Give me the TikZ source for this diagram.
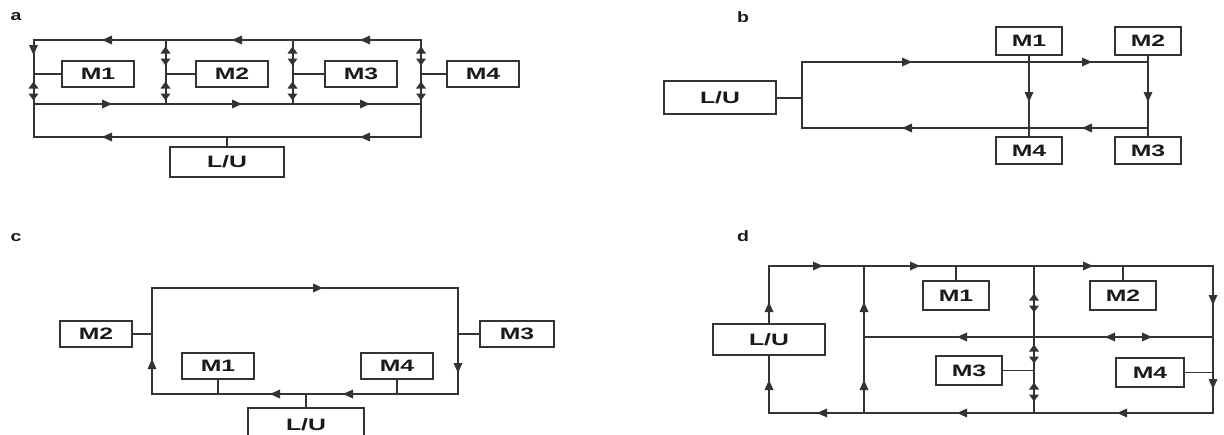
\documentclass[tikz,border=0pt]{standalone}
\usepackage{fontspec}
\setmainfont{Liberation Sans}
\usepackage{graphicx}
\definecolor{linec}{HTML}{333333}
\definecolor{txtc}{HTML}{1A1A1A}
\newcommand{\stretchtxt}[1]{\scalebox{1.5}[1]{#1}}
\newcommand{\stretchlbl}[1]{\scalebox{1.3}[1]{#1}}
\tikzset{
  wire/.style={draw=linec, line width=2pt},
  thinwire/.style={draw=linec, line width=1pt},
  box/.style={draw=linec, line width=1.8pt, fill=white, inner sep=0pt, text=txtc,
    font=\fontsize{16.5}{16.5}\selectfont\bfseries},
  panel/.style={text=txtc, font=\fontsize{15}{15}\selectfont\bfseries, inner sep=0pt},
  ar/.pic={\fill[linec] (5,0) -- (-5,4.5) -- (-5,-4.5) -- cycle;},
  pair/.pic={\fill[linec] (-5,-2.5) -- (5,-2.5) -- (0,-9.5) -- cycle;
             \fill[linec] (-5,2.5) -- (5,2.5) -- (0,9.5) -- cycle;}
}
\begin{document}
\begin{tikzpicture}[x=1pt,y=-1pt]
\useasboundingbox (0,0) rectangle (1224,434);

% ================= panel a =================
\node[panel] (la) at (16,17) {\stretchlbl{a}};
\coordinate (aTL) at (33.5,40);  \coordinate (aTR) at (421,40);
\coordinate (aML) at (33.5,104); \coordinate (aMR) at (421,104);
\coordinate (aBL) at (33.5,137); \coordinate (aBR) at (421,137);
\coordinate (aT2) at (165.5,40); \coordinate (aM2) at (165.5,104);
\coordinate (aT3) at (292.5,40); \coordinate (aM3) at (292.5,104);
\draw[wire] (aTL) -- (aTR) -- (aBR) -- (aBL) -- cycle;
\draw[wire] (aML) -- (aMR);
\draw[wire] (aT2) -- (aM2);
\draw[wire] (aT3) -- (aM3);
\node[box, minimum width=72pt, minimum height=26pt] (aM1) at (98,74) {\stretchtxt{M1}};
\node[box, minimum width=72pt, minimum height=26pt] (aM2b) at (232,74) {\stretchtxt{M2}};
\node[box, minimum width=72pt, minimum height=26pt] (aM3b) at (361,74) {\stretchtxt{M3}};
\node[box, minimum width=72pt, minimum height=26pt] (aM4) at (483,74) {\stretchtxt{M4}};
\node[box, minimum width=114pt, minimum height=30pt] (aLU) at (227,162) {\stretchtxt{L/U}};
\draw[wire] (aM1.west) -- (aM1.west -| aTL);
\draw[wire] (aM2b.west) -- (aM2b.west -| aT2);
\draw[wire] (aM3b.west) -- (aM3b.west -| aT3);
\draw[wire] (aM4.west) -- (aM4.west -| aTR);
\draw[wire] (aLU.north) -- (aLU.north |- aBL);
\foreach \x in {107,237,365} {
  \pic[rotate=180] at (\x,40) {ar};
  \pic at (\x,104) {ar};
}
\foreach \x in {107,365} { \pic[rotate=180] at (\x,137) {ar}; }
\pic[rotate=-90] at (33.5,50) {ar};
\pic at (33.5,91) {pair};
\foreach \x in {165.5,292.5,421} {
  \pic at (\x,56) {pair};
  \pic at (\x,91) {pair};
}

% ================= panel b =================
\node[panel] (lb) at (743,17) {\stretchlbl{b}};
\coordinate (bTL) at (802,62);  \coordinate (bTR) at (1148,62);
\coordinate (bBL) at (802,128); \coordinate (bBR) at (1148,128);
\draw[wire] (bTR) -- (bTL) -- (bBL) -- (bBR);
\node[box, minimum width=112pt, minimum height=33pt] (bLU) at (720,97.5) {\stretchtxt{L/U}};
\node[box, minimum width=66pt, minimum height=28pt] (bM1) at (1029,41) {\stretchtxt{M1}};
\node[box, minimum width=66pt, minimum height=28pt] (bM2) at (1148,41) {\stretchtxt{M2}};
\node[box, minimum width=66pt, minimum height=27pt] (bM4) at (1029,150.5) {\stretchtxt{M4}};
\node[box, minimum width=66pt, minimum height=27pt] (bM3) at (1148,150.5) {\stretchtxt{M3}};
\draw[wire] (bLU.east) -- (bLU.east -| bTL);
\draw[wire] (bM1.south) -- (bM4.north);
\draw[wire] (bM2.south) -- (bM3.north);
\foreach \x in {907,1087} {
  \pic at (\x,62) {ar};
  \pic[rotate=180] at (\x,128) {ar};
}
\pic[rotate=-90] at (1029,97) {ar};
\pic[rotate=-90] at (1148,97) {ar};

% ================= panel c =================
\node[panel] (lc) at (16,238) {\stretchlbl{c}};
\coordinate (cTL) at (152,288); \coordinate (cTR) at (458,288);
\coordinate (cBL) at (152,394); \coordinate (cBR) at (458,394);
\draw[wire] (cTL) -- (cTR) -- (cBR) -- (cBL) -- cycle;
\node[box, minimum width=72pt, minimum height=26pt] (cM2) at (96,334) {\stretchtxt{M2}};
\node[box, minimum width=74pt, minimum height=26pt] (cM3) at (517,334) {\stretchtxt{M3}};
\node[box, minimum width=72pt, minimum height=26pt] (cM1) at (218,366) {\stretchtxt{M1}};
\node[box, minimum width=72pt, minimum height=26pt] (cM4) at (397,366) {\stretchtxt{M4}};
\node[box, minimum width=116pt, minimum height=33pt] (cLU) at (306,424.5) {\stretchtxt{L/U}};
\draw[wire] (cM2.east) -- (cM2.east -| cTL);
\draw[wire] (cM3.west) -- (cM3.west -| cTR);
\draw[wire] (cM1.south) -- (cM1.south |- cBL);
\draw[wire] (cM4.south) -- (cM4.south |- cBL);
\draw[wire] (cLU.north) -- (cLU.north |- cBL);
\pic at (318,288) {ar};
\pic[rotate=90] at (152,364) {ar};
\pic[rotate=-90] at (458,368) {ar};
\pic[rotate=180] at (275,394) {ar};
\pic[rotate=180] at (348,394) {ar};

% ================= panel d =================
\node[panel] (ld) at (743,236) {\stretchlbl{d}};
\coordinate (dTL) at (769,266);  \coordinate (dTR) at (1213,266);
\coordinate (dBL) at (769,413);  \coordinate (dBR) at (1213,413);
\coordinate (dT2) at (864,266);  \coordinate (dB2) at (864,413);
\coordinate (dT3) at (1034,266); \coordinate (dB3) at (1034,413);
\coordinate (dML) at (864,337);  \coordinate (dMR) at (1213,337);
\draw[wire] (dTL) -- (dTR) -- (dBR) -- (dBL) -- cycle;
\draw[wire] (dT2) -- (dB2);
\draw[wire] (dT3) -- (dB3);
\draw[wire] (dML) -- (dMR);
\node[box, minimum width=112pt, minimum height=31pt] (dLU) at (769,339.5) {\stretchtxt{L/U}};
\node[box, minimum width=66pt, minimum height=29pt] (dM1) at (956,295.5) {\stretchtxt{M1}};
\node[box, minimum width=66pt, minimum height=29pt] (dM2) at (1123,295.5) {\stretchtxt{M2}};
\node[box, minimum width=66pt, minimum height=29pt] (dM3) at (969,370.5) {\stretchtxt{M3}};
\node[box, minimum width=68pt, minimum height=29pt] (dM4) at (1150,372.5) {\stretchtxt{M4}};
\draw[wire] (dM1.north) -- (dM1.north |- dTL);
\draw[wire] (dM2.north) -- (dM2.north |- dTL);
\draw[thinwire] (dM3.east) -- (dM3.east -| dT3);
\draw[thinwire] (dM4.east) -- (dM4.east -| dTR);
\foreach \x in {818,915,1088} { \pic at (\x,266) {ar}; }
\foreach \x in {822,962,1122} { \pic[rotate=180] at (\x,413) {ar}; }
\foreach \x in {769,864} {
  \pic[rotate=90] at (\x,307) {ar};
  \pic[rotate=90] at (\x,385) {ar};
}
\foreach \y in {303,354,392} { \pic at (1034,\y) {pair}; }
\pic[rotate=-90] at (1213,300) {ar};
\pic[rotate=-90] at (1213,384) {ar};
\pic[rotate=180] at (962,337) {ar};
\pic[rotate=180] at (1110,337) {ar};
\pic at (1147,337) {ar};
\end{tikzpicture}
\end{document}
